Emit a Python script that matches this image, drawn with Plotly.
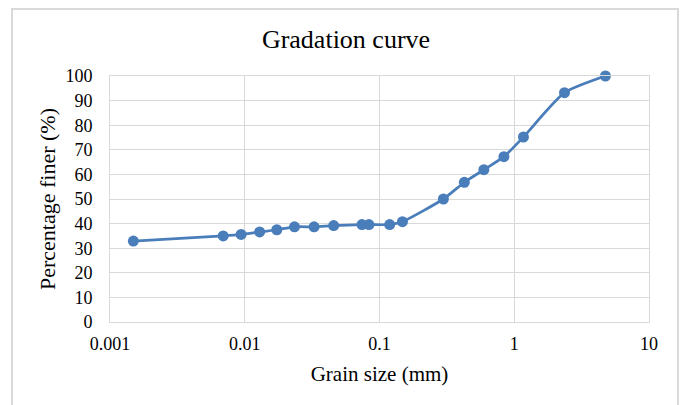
import plotly.graph_objects as go

grain_size_mm = [0.00149, 0.00692, 0.0094, 0.0129, 0.0173, 0.0234, 0.0327, 0.0457,
                 0.0741, 0.0835, 0.119, 0.148, 0.298, 0.426, 0.595, 0.838,
                 1.17, 2.36, 4.75]
percent_finer = [32.9, 35.0, 35.6, 36.6, 37.5, 38.7, 38.7, 39.2,
                 39.6, 39.6, 39.6, 40.8, 50.0, 56.8, 61.9, 67.2,
                 75.2, 93.2, 100.0]

x_tick_vals = [0.001, 0.01, 0.1, 1, 10]
x_tick_text = ["0.001", "0.01", "0.1", "1", "10"]
y_tick_vals = list(range(0, 101, 10))

FONT = "Liberation Serif"
GRID = "#D9D9D9"
BLUE = "#4A7EBB"

fig = go.Figure()
fig.add_trace(go.Scatter(
    x=grain_size_mm, y=percent_finer, mode="lines+markers",
    line=dict(color=BLUE, width=2.75, shape="spline", smoothing=0.6),
    marker=dict(color=BLUE, size=11),
    cliponaxis=False,
    showlegend=False,
))

pw, ph = 539, 246
ml, mt = 110, 76
def px(x):
    return (x - ml) / pw
def py(y):
    return (mt + ph - y) / ph

fig.update_layout(
    width=681, height=405,
    margin=dict(l=ml, r=681 - ml - pw, t=mt, b=405 - mt - ph),
    paper_bgcolor="white", plot_bgcolor="white",
    font=dict(family=FONT, color="#000000", size=15),
    title=dict(text="Gradation curve", x=346 / 681, xanchor="center", xref="container",
               y=1 - 39 / 405, yanchor="middle", yref="container",
               font=dict(family=FONT, size=26, color="#000000")),
    xaxis=dict(type="log", range=[-3, 1], tickvals=x_tick_vals, ticktext=x_tick_text,
               showgrid=True, gridcolor=GRID, gridwidth=1,
               showline=True, linecolor=GRID, linewidth=1, mirror=True,
               ticks="", ticklabelstandoff=5, zeroline=False,
               tickfont=dict(family=FONT, size=18, color="#000000"),
               title=dict(text="Grain size (mm)", standoff=13,
                          font=dict(family=FONT, size=21, color="#000000"))),
    yaxis=dict(range=[0, 100], tickvals=y_tick_vals,
               showgrid=True, gridcolor=GRID, gridwidth=1,
               showline=True, linecolor=GRID, linewidth=1, mirror=True,
               ticks="", ticklabelstandoff=13, zeroline=False,
               tickfont=dict(family=FONT, size=18, color="#000000"),
               title=dict(text="Percentage finer (%)", standoff=3,
                          font=dict(family=FONT, size=22, color="#000000"))),
    shapes=[dict(type="rect", xref="paper", yref="paper",
                 x0=px(12), x1=px(678), y0=py(410), y1=py(9),
                 line=dict(color=GRID, width=2), fillcolor="rgba(0,0,0,0)",
                 layer="below")],
)

fig.write_html("out.html")
